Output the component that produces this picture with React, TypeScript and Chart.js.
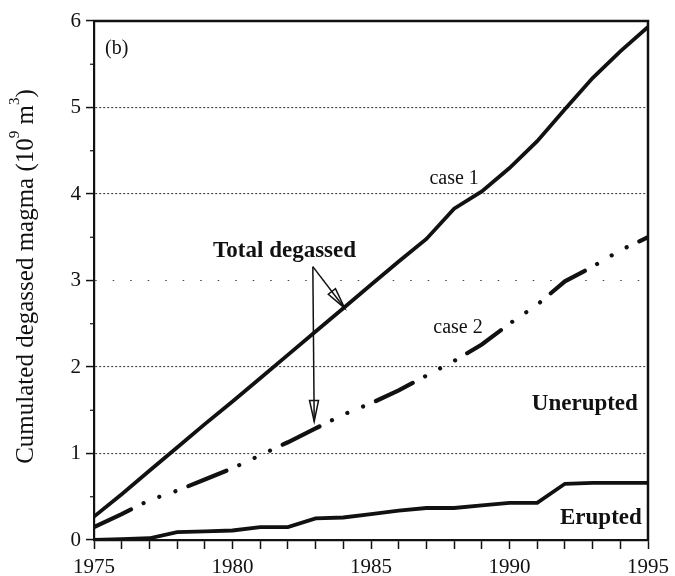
import React, { useEffect, useRef } from "react";
import { Chart, registerables } from "chart.js";

Chart.register(...registerables);

// Years on the horizontal axis
const years = [
  1975, 1976, 1977, 1978, 1979, 1980, 1981, 1982, 1983, 1984, 1985,
  1986, 1987, 1988, 1989, 1990, 1991, 1992, 1993, 1994, 1995,
];

// Cumulated degassed magma volumes (10^9 m^3)
const totalCase1 = [
  0.27, 0.53, 0.8, 1.07, 1.34, 1.6, 1.87, 2.14, 2.41, 2.68, 2.95,
  3.22, 3.48, 3.83, 4.03, 4.3, 4.61, 4.98, 5.34, 5.65, 5.93,
];
const totalCase2 = [
  0.15, 0.3, 0.46, 0.57, 0.7, 0.83, 0.98, 1.13, 1.29, 1.45, 1.58,
  1.73, 1.9, 2.07, 2.26, 2.5, 2.72, 2.99, 3.16, 3.35, 3.5,
];
const erupted = [
  0, 0.01, 0.02, 0.09, 0.1, 0.11, 0.15, 0.15, 0.25, 0.26, 0.3,
  0.34, 0.37, 0.37, 0.4, 0.43, 0.43, 0.65, 0.66, 0.66, 0.66,
];

// Axis settings
const xLabelYears = [1975, 1980, 1985, 1990, 1995];
const yMin = 0;
const yMax = 6;

const FONT = "'Liberation Serif', 'Times New Roman', Times, serif";
const INK = "#111";

// Text annotations placed in data coordinates
const notes = [
  { text: "(b)", x: 1975.4, y: 5.62, bold: false, size: 20, align: "left" },
  { text: "Total degassed", x: 1981.88, y: 3.275, bold: true, size: 23, align: "center" },
  { text: "case 1", x: 1988.0, y: 4.115, bold: false, size: 20, align: "center" },
  { text: "case 2", x: 1988.14, y: 2.39, bold: false, size: 20, align: "center" },
  { text: "Unerupted", x: 1992.72, y: 1.5, bold: true, size: 23, align: "center" },
  { text: "Erupted", x: 1993.3, y: 0.19, bold: true, size: 23, align: "center" },
];

// Pointer arrows from the "Total degassed" label to both curves
const arrows = [
  { from: [1982.9, 3.16], to: [1984.05, 2.68] },
  { from: [1982.9, 3.16], to: [1982.95, 1.37] },
];

const toPoints = (vals: number[]) => years.map((x, i) => ({ x, y: vals[i] }));

const decorations = {
  id: "decorations",
  afterDraw(chart: any) {
    const { ctx, chartArea: area, scales } = chart;
    const xs = scales.x;
    const ys = scales.y;
    ctx.save();

    // frame: top and right edges
    ctx.strokeStyle = INK;
    ctx.lineWidth = 2.5;
    ctx.beginPath();
    ctx.moveTo(area.left - 1, area.top);
    ctx.lineTo(area.right, area.top);
    ctx.lineTo(area.right, area.bottom + 1);
    ctx.stroke();

    // short minor ticks on the value axis
    ctx.lineWidth = 1.2;
    for (let v = yMin + 0.5; v < yMax; v += 1) {
      const py = ys.getPixelForValue(v);
      ctx.beginPath();
      ctx.moveTo(area.left - 4, py);
      ctx.lineTo(area.left, py);
      ctx.stroke();
    }

    // annotations
    ctx.fillStyle = INK;
    ctx.textBaseline = "alphabetic";
    for (const n of notes) {
      ctx.font = `${n.bold ? "bold " : ""}${n.size}px ${FONT}`;
      ctx.textAlign = n.align as CanvasTextAlign;
      ctx.fillText(n.text, xs.getPixelForValue(n.x), ys.getPixelForValue(n.y));
    }

    // arrows with narrow open heads
    ctx.lineWidth = 1.5;
    ctx.lineJoin = "miter";
    for (const a of arrows) {
      const x0 = xs.getPixelForValue(a.from[0]);
      const y0 = ys.getPixelForValue(a.from[1]);
      const x1 = xs.getPixelForValue(a.to[0]);
      const y1 = ys.getPixelForValue(a.to[1]);
      ctx.beginPath();
      ctx.moveTo(x0, y0);
      ctx.lineTo(x1, y1);
      ctx.stroke();
      const ang = Math.atan2(y1 - y0, x1 - x0);
      const len = 21;
      const half = 4.5;
      const bx = x1 - len * Math.cos(ang);
      const by = y1 - len * Math.sin(ang);
      const nx = -Math.sin(ang) * half;
      const ny = Math.cos(ang) * half;
      ctx.beginPath();
      ctx.moveTo(x1, y1);
      ctx.lineTo(bx + nx, by + ny);
      ctx.lineTo(bx - nx, by - ny);
      ctx.closePath();
      ctx.stroke();
    }

    // rotated value-axis title with superscript exponents
    const parts = [
      { t: "Cumulated degassed magma (10", sup: false },
      { t: "9", sup: true },
      { t: " m", sup: false },
      { t: "3", sup: true },
      { t: ")", sup: false },
    ];
    const mainFont = `25px ${FONT}`;
    const supFont = `15px ${FONT}`;
    let total = 0;
    for (const p of parts) {
      ctx.font = p.sup ? supFont : mainFont;
      total += ctx.measureText(p.t).width;
    }
    const cy = (area.top + area.bottom) / 2 - 4;
    ctx.translate(33, cy);
    ctx.rotate(-Math.PI / 2);
    ctx.textAlign = "left";
    let pos = -total / 2;
    for (const p of parts) {
      ctx.font = p.sup ? supFont : mainFont;
      ctx.fillText(p.t, pos, p.sup ? -14 : 0);
      pos += ctx.measureText(p.t).width;
    }
    ctx.restore();
  },
};

export default function App() {
  const canvasRef = useRef<HTMLCanvasElement | null>(null);

  useEffect(() => {
    const canvas = canvasRef.current;
    if (!canvas) return;
    Chart.defaults.font.family = FONT;
    Chart.defaults.color = INK;

    const chart = new Chart(canvas, {
      type: "line",
      data: {
        datasets: [
          {
            label: "case 1",
            data: toPoints(totalCase1),
            borderColor: INK,
            borderWidth: 3.8,
            pointRadius: 0,
            tension: 0,
            fill: false,
          },
          {
            label: "case 2",
            data: toPoints(totalCase2),
            borderColor: INK,
            borderWidth: 4.2,
            borderCapStyle: "round",
            borderDash: [41, 14, 0.01, 17, 0.01, 17, 0.01, 14],
            pointRadius: 0,
            tension: 0,
            fill: false,
          },
          {
            label: "Erupted",
            data: toPoints(erupted),
            borderColor: INK,
            borderWidth: 3.8,
            pointRadius: 0,
            tension: 0,
            fill: false,
          },
        ],
      },
      options: {
        animation: false,
        responsive: false,
        events: [],
        layout: { padding: { left: 0, top: 21, right: 22, bottom: 0 } },
        plugins: {
          legend: { display: false },
          tooltip: { enabled: false },
          title: { display: false },
        },
        scales: {
          x: {
            type: "linear",
            min: years[0],
            max: years[years.length - 1],
            afterFit: (s: any) => {
              s.height = 36;
            },
            ticks: {
              stepSize: 1,
              autoSkip: false,
              maxRotation: 0,
              padding: 6,
              color: INK,
              font: { size: 21, family: FONT },
              callback: (v: any) => (xLabelYears.includes(Number(v)) ? String(v) : ""),
            },
            grid: {
              drawOnChartArea: false,
              drawTicks: true,
              tickLength: 9,
              tickColor: INK,
              tickWidth: 1.5,
            },
            border: { display: true, color: INK, width: 2.2 },
          },
          y: {
            type: "linear",
            min: yMin,
            max: yMax,
            afterFit: (s: any) => {
              s.width = 94;
            },
            ticks: {
              stepSize: 1,
              padding: 5,
              color: INK,
              font: { size: 21, family: FONT },
            },
            grid: {
              color: (c: any) =>
                c.tick && (c.tick.value === yMin || c.tick.value === yMax)
                  ? "rgba(0,0,0,0)"
                  : "#444",
              lineWidth: 1.1,
              drawTicks: true,
              tickLength: 8,
              tickColor: INK,
              tickWidth: 1.5,
            },
            border: {
              display: true,
              color: INK,
              width: 2.2,
              dash: (c: any) =>
                c.tick ? (c.tick.value === 3 ? [1.5, 16] : [2, 2]) : [],
            },
          },
        },
      },
      plugins: [decorations],
    });

    return () => chart.destroy();
  }, []);

  return (
    <div
      style={{
        position: "fixed",
        left: 0,
        top: 0,
        width: 675,
        height: 576,
        background: "#fff",
      }}
    >
      <canvas ref={canvasRef} width={675} height={576} />
    </div>
  );
}
